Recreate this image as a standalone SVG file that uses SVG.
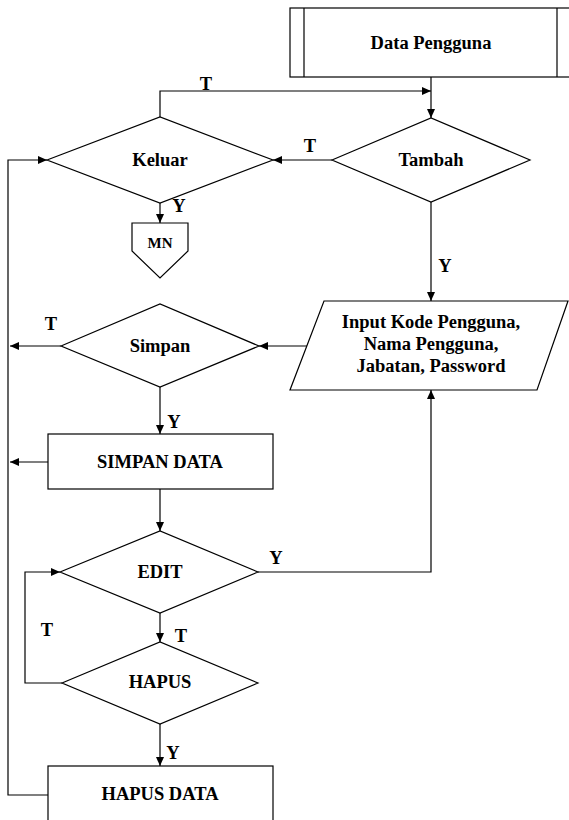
<svg xmlns="http://www.w3.org/2000/svg" width="569" height="820" viewBox="0 0 569 820">
<style>
.s{fill:#fff;stroke:#000;stroke-width:1.2}
.c{fill:none;stroke:#000;stroke-width:1.2}
.t{font-family:"Liberation Serif","Times New Roman",serif;font-weight:bold;font-size:18.5px;fill:#000;text-anchor:middle}
.m{font-size:15px}
</style>
<defs>
<marker id="a" markerUnits="userSpaceOnUse" markerWidth="9" markerHeight="8" refX="9" refY="4" orient="auto">
<path d="M0,0 L9,4 L0,8 z" fill="#000"/>
</marker>
</defs>
<rect width="569" height="820" fill="#fff"/>
<g id="connectors" class="c" marker-end="url(#a)">
<path d="M431,77 V118"/>
<path d="M160,117 V91 H431"/>
<path d="M332,160 H273"/>
<path d="M160,203 V223"/>
<path d="M431,202 V301"/>
<path d="M307,346 H259"/>
<path d="M61,346 H10"/>
<path d="M160,387 V434"/>
<path d="M48,462 H10"/>
<path d="M160,489 V531"/>
<path d="M258,572 H431 V390"/>
<path d="M160,613 V642"/>
<path d="M62,683 H25 V572 H60"/>
<path d="M160,724 V766"/>
<path d="M48,795 H8 V160 H47"/>
</g>
<g id="data-pengguna">
<rect class="s" x="290" y="8" width="282" height="69"/>
<path class="c" d="M304,8 V77 M557,8 V77"/>
<text class="t" x="431" y="49">Data Pengguna</text>
</g>
<g id="keluar">
<polygon class="s" points="47,160 160,117 273,160 160,203"/>
<text class="t" x="160" y="166">Keluar</text>
</g>
<g id="tambah">
<polygon class="s" points="332,160 431,118 530,160 431,202"/>
<text class="t" x="431" y="166">Tambah</text>
</g>
<g id="mn">
<polygon class="s" points="132,223 188,223 188,251 160,278 132,251"/>
<text class="t m" x="160" y="248">MN</text>
</g>
<g id="input">
<polygon class="s" points="324,301 568,301 537,390 290,390"/>
<text class="t" x="431" y="328">Input Kode Pengguna,</text>
<text class="t" x="431" y="350">Nama Pengguna,</text>
<text class="t" x="431" y="372">Jabatan, Password</text>
</g>
<g id="simpan">
<polygon class="s" points="61,346 160,304 259,346 160,387"/>
<text class="t" x="160" y="352">Simpan</text>
</g>
<g id="simpan-data">
<rect class="s" x="48" y="434" width="225" height="55"/>
<text class="t" x="160" y="468">SIMPAN DATA</text>
</g>
<g id="edit">
<polygon class="s" points="60,572 160,531 258,572 160,613"/>
<text class="t" x="160" y="578">EDIT</text>
</g>
<g id="hapus">
<polygon class="s" points="62,683 160,642 258,683 160,724"/>
<text class="t" x="160" y="688">HAPUS</text>
</g>
<g id="hapus-data">
<rect class="s" x="48" y="766" width="225" height="57"/>
<text class="t" x="160" y="800">HAPUS DATA</text>
</g>
<g id="labels">
<text class="t" x="206" y="90">T</text>
<text class="t" x="310" y="152">T</text>
<text class="t" x="179" y="212">Y</text>
<text class="t" x="445" y="272">Y</text>
<text class="t" x="51" y="330">T</text>
<text class="t" x="174" y="428">Y</text>
<text class="t" x="276" y="564">Y</text>
<text class="t" x="47" y="636">T</text>
<text class="t" x="181" y="642">T</text>
<text class="t" x="173" y="759">Y</text>
</g>
</svg>
